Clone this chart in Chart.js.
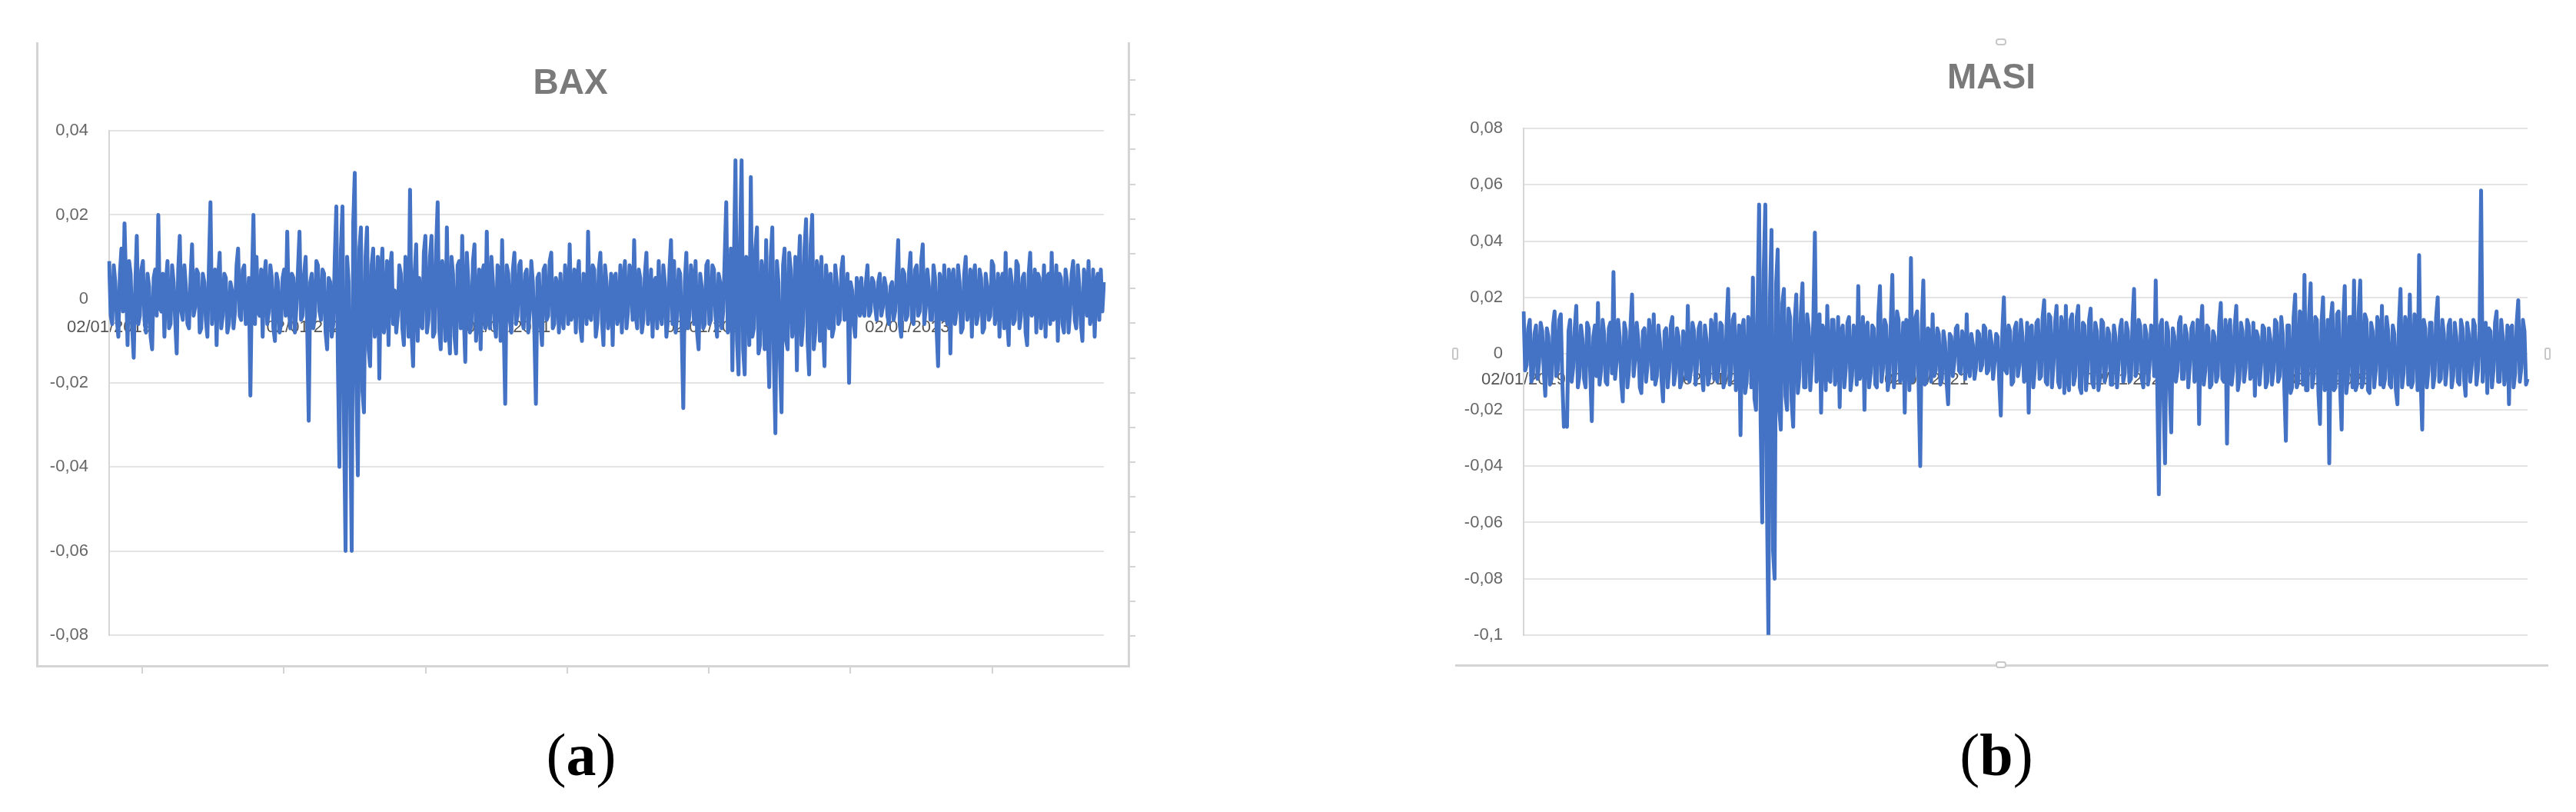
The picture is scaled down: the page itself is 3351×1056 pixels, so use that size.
<!DOCTYPE html>
<html lang="en">
<head>
<meta charset="UTF-8">
<title>BAX / MASI returns</title>
<script src="https://cdn.jsdelivr.net/npm/chart.js@4"></script>
<style>
  body { margin: 0; width: 3351px; height: 1056px; background: #fff; position: relative; overflow: hidden; }
  .wrap { position: absolute; }
  .frame { position: absolute; box-sizing: border-box; border-color: #d4d4d4; border-style: solid; border-width: 0; }
  .caption { position: absolute; top: 937px; width: 200px; text-align: center; font-family: "Liberation Serif", "DejaVu Serif", serif; font-size: 78px; line-height: 90px; color: #000; }
  .caption b { font-weight: bold; }
  .handle { position: absolute; box-sizing: border-box; border: 2px solid #c8c8c8; background: #fff; }
</style>
</head>
<body>

<!-- left panel frame (a) -->
<div class="frame" style="left:47px; top:55px; width:1423px; height:813px; border-left-width:3px; border-right-width:3px; border-bottom-width:3px;"></div>
<div class="wrap" style="left:1470px; top:103px; width:7px; height:730px; background:repeating-linear-gradient(to bottom, #d4d4d4 0 2px, transparent 2px 45.2px);"></div>
<div class="wrap" style="left:184px; top:867px; width:1110px; height:9px; background:repeating-linear-gradient(to right, #d4d4d4 0 2px, transparent 2px 184.3px);"></div>
<div class="wrap" style="left:48px; top:55px; width:1420px; height:811px;"><canvas id="baxChart"></canvas></div>

<!-- right panel frame (b) -->
<div class="frame" style="left:1893px; top:864px; width:1422px; height:3px; border-bottom-width:3px;"></div>
<div class="handle" style="left:2596px; top:50px; width:14px; height:9px; border-radius:4px;"></div>
<div class="handle" style="left:2596px; top:860px; width:14px; height:9px; border-radius:4px;"></div>
<div class="handle" style="left:1889px; top:452px; width:8px; height:16px; border-radius:3px;"></div>
<div class="handle" style="left:3310px; top:452px; width:8px; height:16px; border-radius:3px;"></div>
<div class="wrap" style="left:1893px; top:55px; width:1421px; height:811px;"><canvas id="masiChart"></canvas></div>

<div class="caption" style="left:656px;">(<b>a</b>)</div>
<div class="caption" style="left:2497px;">(<b>b</b>)</div>

<script>
// category labels shown on the x axis (one per year) and the data index where each falls
const yearLabels = ["02/01/2019", "02/01/2020", "02/01/2021", "02/01/2022", "02/01/2023"];
const yearStart = [0, 130, 260, 390, 520];

// BAX daily returns
const baxReturns = [
  // 2019
  0.009, -0.004, -0.006, 0.008, 0.004, -0.005, -0.009, 0.006, 0.012, -0.003,
  0.018, 0.004, -0.011, 0.009, 0.006, -0.007, -0.014, 0.003, 0.015, -0.006,
  -0.004, 0.007, 0.009, -0.005, -0.008, 0.006, 0.003, -0.009, -0.012, 0.005,
  0.007, -0.004, 0.020, -0.002, -0.003, 0.006, -0.009, 0.004, 0.009, -0.007,
  -0.006, 0.008, 0.004, -0.005, -0.013, 0.007, 0.015, -0.003, -0.005, 0.008,
  0.003, -0.006, -0.007, 0.005, 0.013, -0.004, -0.002, 0.007, 0.006, -0.008,
  -0.007, 0.006, 0.004, -0.005, -0.009, 0.008, 0.023, -0.006, 0.002, 0.007,
  -0.011, 0.005, 0.011, -0.007, -0.004, 0.006, 0.005, -0.008, -0.006, 0.004,
  0.002, -0.007, -0.003, 0.008, 0.012, -0.004, -0.005, 0.007, 0.008, -0.006,
  -0.004, 0.005, -0.023, 0.004, 0.020, -0.006, 0.010, -0.003, -0.004, 0.007,
  -0.009, 0.005, 0.009, -0.006, -0.003, 0.008, 0.005, -0.007, -0.010, 0.006,
  0.004, -0.008, -0.006, 0.005, 0.007, -0.004, 0.016, -0.002, -0.007, 0.006,
  0.005, -0.008, -0.002, 0.007, 0.016, -0.005, -0.004, 0.006, 0.010, -0.006,
  // 2020
  -0.029, 0.004, 0.006, -0.007, -0.004, 0.009, 0.008, -0.003, -0.005, 0.007,
  0.006, -0.008, -0.012, 0.005, 0.004, -0.009, -0.006, 0.010, 0.022, -0.015,
  -0.040, 0.012, 0.022, -0.030, -0.060, 0.010, 0.004, -0.025, -0.060, 0.018,
  0.030, -0.020, -0.042, 0.012, 0.017, -0.022, -0.027, 0.010, 0.017, -0.012,
  -0.016, 0.008, 0.012, -0.009, -0.005, 0.010, -0.019, 0.006, 0.012, -0.008,
  -0.004, 0.009, -0.011, 0.007, 0.011, -0.006, 0.002, -0.008, -0.004, 0.008,
  0.006, -0.007, -0.011, 0.010, 0.004, -0.009, 0.026, -0.008, -0.016, 0.006,
  0.013, -0.010, 0.005, -0.006, -0.007, 0.011, 0.015, -0.008, -0.005, 0.010,
  0.015, -0.009, -0.008, 0.012, 0.023, -0.007, -0.012, 0.009, 0.004, -0.010,
  0.017, -0.006, -0.013, 0.010, 0.006, -0.009, -0.013, 0.008, 0.009, -0.007,
  0.015, -0.004, -0.015, 0.011, 0.004, -0.008, -0.006, 0.009, 0.013, -0.010,
  -0.003, 0.007, -0.012, 0.006, 0.008, -0.007, 0.016, -0.004, -0.007, 0.010,
  0.004, -0.006, -0.009, 0.008, 0.007, -0.010, 0.014, -0.006, -0.025, 0.008,
  // 2021
  0.006, -0.005, -0.008, 0.007, 0.011, -0.006, -0.004, 0.008, 0.009, -0.005,
  -0.007, 0.006, 0.007, -0.008, -0.003, 0.009, 0.004, -0.008, -0.025, 0.005,
  0.006, -0.006, -0.011, 0.007, 0.008, -0.005, -0.004, 0.009, 0.011, -0.007,
  -0.006, 0.005, 0.003, -0.008, 0.006, -0.004, -0.007, 0.008, 0.004, -0.006,
  0.013, -0.005, -0.003, 0.007, -0.008, 0.005, 0.009, -0.007, -0.010, 0.006,
  0.005, -0.006, 0.016, -0.004, -0.005, 0.008, 0.007, -0.009, -0.006, 0.007,
  0.011, -0.005, -0.011, 0.008, 0.004, -0.007, -0.003, 0.006, -0.011, 0.005,
  0.006, -0.006, -0.004, 0.008, -0.008, 0.004, 0.009, -0.007, -0.003, 0.008,
  0.006, -0.005, 0.014, -0.004, -0.007, 0.007, 0.005, -0.008, -0.005, 0.006,
  0.011, -0.006, -0.002, 0.007, -0.009, 0.004, 0.005, -0.007, 0.009, -0.003,
  -0.006, 0.008, 0.004, -0.009, -0.005, 0.007, 0.014, -0.006, 0.009, -0.008,
  -0.004, 0.007, 0.006, -0.008, -0.026, 0.004, 0.011, -0.007, -0.004, 0.008,
  0.005, -0.006, 0.009, -0.008, -0.012, 0.006, 0.003, -0.007, -0.006, 0.008,
  // 2022
  0.009, -0.006, -0.005, 0.008, 0.007, -0.004, -0.009, 0.006, 0.004, -0.007,
  -0.003, 0.010, 0.023, -0.008, -0.006, 0.012, -0.017, 0.009, 0.033, -0.010,
  -0.018, 0.014, 0.033, -0.012, -0.018, 0.010, 0.008, -0.011, 0.029, -0.009,
  -0.007, 0.012, 0.017, -0.013, -0.011, 0.009, 0.005, -0.012, 0.014, -0.008,
  -0.021, 0.010, 0.017, -0.014, -0.032, 0.009, 0.004, -0.015, -0.027, 0.008,
  0.012, -0.010, -0.012, 0.011, 0.007, -0.009, -0.004, 0.010, -0.017, 0.006,
  0.015, -0.011, -0.006, 0.012, 0.019, -0.010, -0.018, 0.013, 0.020, -0.012,
  -0.008, 0.009, 0.006, -0.010, 0.010, -0.006, -0.016, 0.008, 0.003, -0.007,
  0.006, -0.009, -0.007, 0.008, 0.004, -0.006, -0.005, 0.007, 0.010, -0.005,
  -0.003, 0.006, -0.020, 0.004, 0.002, -0.006, -0.009, 0.005, 0.003, -0.004,
  0.005, -0.003, -0.004, 0.004, 0.008, -0.004, -0.003, 0.005, 0.004, -0.002,
  -0.005, 0.004, 0.006, -0.004, -0.002, 0.005, 0.003, -0.004, -0.006, 0.003,
  0.004, -0.005, -0.003, 0.006, 0.014, -0.006, -0.009, 0.007, 0.006, -0.005,
  // 2023
  -0.004, 0.006, 0.011, -0.005, -0.006, 0.007, 0.008, -0.004, -0.003, 0.009,
  0.013, -0.006, -0.002, 0.007, 0.003, -0.005, -0.005, 0.008, 0.005, -0.007,
  -0.016, 0.006, 0.004, -0.005, 0.008, -0.004, -0.006, 0.007, -0.013, 0.005,
  0.007, -0.006, -0.003, 0.008, 0.004, -0.008, -0.007, 0.006, 0.010, -0.005,
  -0.002, 0.007, -0.009, 0.005, 0.008, -0.006, -0.004, 0.007, 0.005, -0.008,
  -0.007, 0.006, 0.003, -0.005, -0.004, 0.009, 0.008, -0.006, -0.002, 0.006,
  -0.009, 0.004, 0.006, -0.007, 0.011, -0.005, -0.011, 0.007, 0.004, -0.006,
  -0.005, 0.009, 0.008, -0.007, -0.004, 0.005, 0.006, -0.008, -0.011, 0.006,
  0.011, -0.004, -0.003, 0.007, -0.008, 0.006, 0.005, -0.007, -0.002, 0.008,
  -0.009, 0.005, 0.006, -0.006, 0.011, -0.005, -0.004, 0.008, -0.010, 0.006,
  0.005, -0.006, -0.008, 0.007, 0.004, -0.008, -0.003, 0.006, 0.009, -0.005,
  -0.007, 0.008, 0.003, -0.006, -0.010, 0.007, 0.005, -0.004, 0.009, -0.006,
  -0.004, 0.007, -0.009, 0.004, 0.006, -0.005, 0.007, -0.003, 0.004
];

// MASI daily returns
const masiReturns = [
  // 2019
  0.015, -0.006, -0.004, 0.009, 0.012, -0.010, -0.008, 0.007, 0.010, -0.009,
  -0.003, 0.011, 0.008, -0.006, -0.015, 0.009, 0.006, -0.011, -0.009, 0.010,
  0.015, -0.008, -0.006, 0.012, 0.014, -0.010, -0.026, -0.025, -0.026, 0.008,
  0.012, -0.010, -0.005, 0.009, 0.017, -0.012, -0.008, 0.010, 0.005, -0.009,
  -0.012, 0.011, 0.009, -0.007, -0.024, 0.006, 0.010, -0.008, 0.018, -0.011,
  -0.006, 0.012, 0.007, -0.010, -0.011, 0.009, 0.011, -0.007, 0.029, -0.009,
  -0.003, 0.012, 0.006, -0.010, -0.017, 0.011, 0.008, -0.012, -0.006, 0.010,
  0.021, -0.008, -0.002, 0.011, 0.005, -0.012, -0.014, 0.008, 0.009, -0.010,
  -0.004, 0.012, 0.006, -0.009, 0.014, -0.011, -0.008, 0.010, 0.004, -0.009,
  -0.017, 0.008, 0.009, -0.012, -0.005, 0.010, 0.013, -0.011, -0.007, 0.009,
  0.006, -0.012, -0.010, 0.008, 0.003, -0.009, 0.017, -0.010, -0.006, 0.011,
  0.008, -0.011, -0.004, 0.009, 0.011, -0.008, -0.013, 0.010, 0.005, -0.011,
  -0.008, 0.012, 0.009, -0.009, 0.014, -0.010, -0.005, 0.011, 0.010, -0.012,
  // 2020
  -0.009, 0.010, 0.023, -0.011, -0.006, 0.012, 0.014, -0.013, -0.004, 0.010,
  -0.029, 0.009, 0.012, -0.014, -0.010, 0.013, 0.011, -0.012, 0.027, -0.016,
  -0.020, 0.015, 0.053, -0.025, -0.060, 0.030, 0.053, -0.050, -0.100, 0.020,
  0.044, -0.070, -0.080, 0.025, 0.037, -0.020, -0.027, 0.018, 0.023, -0.015,
  -0.020, 0.016, 0.013, -0.017, -0.026, 0.012, 0.021, -0.014, -0.008, 0.015,
  0.025, -0.012, -0.012, 0.014, 0.009, -0.013, -0.004, 0.012, 0.043, -0.010,
  -0.006, 0.014, -0.021, 0.010, 0.008, -0.013, 0.017, -0.009, -0.010, 0.012,
  0.012, -0.011, -0.006, 0.013, -0.019, 0.008, 0.010, -0.012, -0.005, 0.011,
  0.013, -0.013, -0.008, 0.010, 0.006, -0.011, 0.024, -0.009, -0.004, 0.013,
  -0.020, 0.009, 0.011, -0.012, -0.007, 0.010, 0.009, -0.011, -0.012, 0.014,
  0.024, -0.010, -0.005, 0.012, 0.010, -0.013, -0.009, 0.011, 0.028, -0.012,
  -0.006, 0.015, 0.012, -0.010, -0.004, 0.011, -0.021, 0.012, 0.011, -0.013,
  0.034, -0.010, -0.008, 0.013, 0.015, -0.012, -0.040, 0.010, 0.026, -0.011,
  // 2021
  -0.010, 0.009, 0.008, -0.010, 0.014, -0.008, -0.006, 0.009, 0.007, -0.011,
  -0.009, 0.008, 0.004, -0.010, -0.018, 0.007, 0.006, -0.008, -0.003, 0.009,
  0.010, -0.006, -0.007, 0.008, 0.005, -0.009, 0.014, -0.005, -0.008, 0.007,
  0.003, -0.009, -0.005, 0.008, 0.007, -0.006, -0.004, 0.010, 0.009, -0.007,
  -0.006, 0.008, 0.004, -0.009, -0.003, 0.007, 0.006, -0.010, -0.022, 0.008,
  0.020, -0.006, -0.007, 0.010, 0.008, -0.011, -0.010, 0.009, 0.011, -0.008,
  -0.004, 0.012, 0.006, -0.010, -0.009, 0.011, -0.021, 0.009, 0.010, -0.012,
  -0.005, 0.011, 0.012, -0.009, -0.008, 0.013, 0.019, -0.010, -0.011, 0.014,
  0.013, -0.012, -0.004, 0.011, 0.017, -0.010, -0.012, 0.013, 0.009, -0.014,
  0.017, -0.009, -0.013, 0.012, 0.014, -0.011, -0.008, 0.013, 0.017, -0.012,
  -0.014, 0.011, 0.010, -0.013, -0.006, 0.012, 0.016, -0.010, -0.012, 0.011,
  0.008, -0.013, -0.009, 0.012, 0.011, -0.010, -0.005, 0.009, 0.007, -0.011,
  -0.011, 0.010, 0.006, -0.012, -0.004, 0.009, 0.012, -0.010, -0.007, 0.011,
  // 2022
  0.008, -0.010, -0.009, 0.011, 0.023, -0.008, -0.006, 0.012, 0.010, -0.009,
  -0.012, 0.010, 0.007, -0.011, -0.004, 0.010, 0.009, -0.008, 0.026, -0.012,
  -0.050, 0.010, 0.012, -0.015, -0.039, 0.011, 0.008, -0.012, -0.028, 0.009,
  0.006, -0.010, -0.006, 0.011, 0.013, -0.009, -0.009, 0.010, 0.007, -0.012,
  -0.004, 0.009, 0.011, -0.010, -0.007, 0.012, -0.025, 0.008, 0.017, -0.011,
  -0.006, 0.010, 0.009, -0.012, -0.011, 0.008, 0.006, -0.010, -0.008, 0.011,
  0.018, -0.009, -0.010, 0.012, -0.032, 0.008, 0.012, -0.011, -0.006, 0.010,
  0.017, -0.013, -0.009, 0.011, 0.008, -0.010, -0.005, 0.012, 0.010, -0.009,
  -0.007, 0.011, -0.015, 0.008, 0.006, -0.011, -0.004, 0.010, 0.009, -0.012,
  -0.010, 0.009, 0.005, -0.011, -0.006, 0.012, 0.011, -0.010, -0.008, 0.013,
  0.007, -0.012, -0.031, 0.010, 0.010, -0.014, -0.012, 0.013, 0.021, -0.012,
  -0.010, 0.015, 0.014, -0.011, 0.028, -0.013, -0.013, 0.014, 0.025, -0.012,
  -0.008, 0.013, 0.012, -0.014, -0.025, 0.011, 0.020, -0.013, -0.007, 0.012,
  // 2023
  -0.039, 0.012, 0.018, -0.013, -0.012, 0.014, 0.015, -0.012, -0.027, 0.011,
  0.024, -0.014, -0.009, 0.013, 0.013, -0.012, 0.026, -0.013, -0.011, 0.015,
  0.026, -0.012, -0.010, 0.014, 0.012, -0.013, -0.014, 0.011, 0.008, -0.012,
  -0.006, 0.013, 0.010, -0.011, 0.017, -0.012, -0.009, 0.013, 0.008, -0.011,
  -0.012, 0.010, 0.007, -0.013, -0.018, 0.011, 0.023, -0.012, -0.007, 0.013,
  0.010, -0.011, 0.021, -0.012, -0.010, 0.014, 0.012, -0.013, 0.035, -0.010,
  -0.027, 0.012, 0.009, -0.012, -0.006, 0.011, 0.011, -0.012, -0.008, 0.013,
  0.020, -0.010, -0.009, 0.012, 0.007, -0.011, -0.005, 0.010, 0.012, -0.012,
  -0.008, 0.011, 0.006, -0.010, -0.011, 0.012, 0.009, -0.009, -0.015, 0.011,
  0.007, -0.010, -0.004, 0.012, 0.010, -0.011, -0.006, 0.008, 0.058, -0.010,
  0.004, 0.011, -0.014, 0.009, 0.008, -0.012, -0.006, 0.011, 0.015, -0.010,
  -0.010, 0.012, 0.006, -0.011, -0.004, 0.010, -0.018, 0.009, 0.010, -0.012,
  -0.007, 0.011, 0.019, -0.010, -0.005, 0.012, 0.008, -0.011, -0.009
];

const lineColor = "#4472C4";

// excel style decimal comma: 0,04 / -0,1 / 0
function commaTick(v) {
  const r = Math.round(v * 100) / 100;
  return r === 0 ? "0" : String(r).replace(".", ",");
}

function makeChart(canvasId, title, values, yMin, yMax, lay) {
  const labels = values.map((v, i) => {
    const k = yearStart.indexOf(i);
    return k >= 0 ? yearLabels[k] : "";
  });

  return new Chart(document.getElementById(canvasId), {
    type: "line",
    data: {
      labels: labels,
      datasets: [{
        data: values,
        borderColor: lineColor,
        borderWidth: 5,
        borderJoinStyle: "round",
        pointRadius: 0,
        tension: 0,
        fill: false,
      }],
    },
    options: {
      responsive: true,
      maintainAspectRatio: false,
      animation: false,
      layout: { padding: { left: 0, right: lay.right, top: 0, bottom: lay.bottom } },
      plugins: {
        legend: { display: false },
        tooltip: { enabled: false },
        title: {
          display: true,
          text: title,
          color: "#7a7a7a",
          font: { family: "'Liberation Sans', Arial, sans-serif", size: 46, weight: "bold", lineHeight: 1.2 },
          padding: { top: lay.titleTop, bottom: lay.titleBottom },
        },
      },
      scales: {
        x: {
          type: "category",
          position: { y: 0 },
          offset: false,
          z: 1,
          grid: { display: false, drawTicks: false },
          border: { display: false },
          ticks: {
            autoSkip: false,
            maxRotation: 0,
            minRotation: 0,
            padding: lay.xPad,
            color: "#555555",
            font: { family: "'Liberation Sans', Arial, sans-serif", size: 22 },
          },
        },
        y: {
          min: yMin,
          max: yMax,
          afterFit: (scale) => { scale.width = lay.left; },
          grid: { color: "#e4e4e4", lineWidth: 2, drawTicks: false },
          border: { display: true, color: "#d6d6d6", width: 2 },
          ticks: {
            stepSize: 0.02,
            padding: 27,
            color: "#666666",
            font: { family: "'Liberation Sans', Arial, sans-serif", size: 22 },
            callback: commaTick,
          },
        },
      },
    },
  });
}

makeChart("baxChart", "BAX", baxReturns, -0.08, 0.04,
  { left: 94, right: 32, bottom: 31, titleTop: 27, titleBottom: 33, xPad: 24 });
makeChart("masiChart", "MASI", masiReturns, -0.1, 0.08,
  { left: 89, right: 26, bottom: 31, titleTop: 20, titleBottom: 37, xPad: 21 });
</script>
</body>
</html>
